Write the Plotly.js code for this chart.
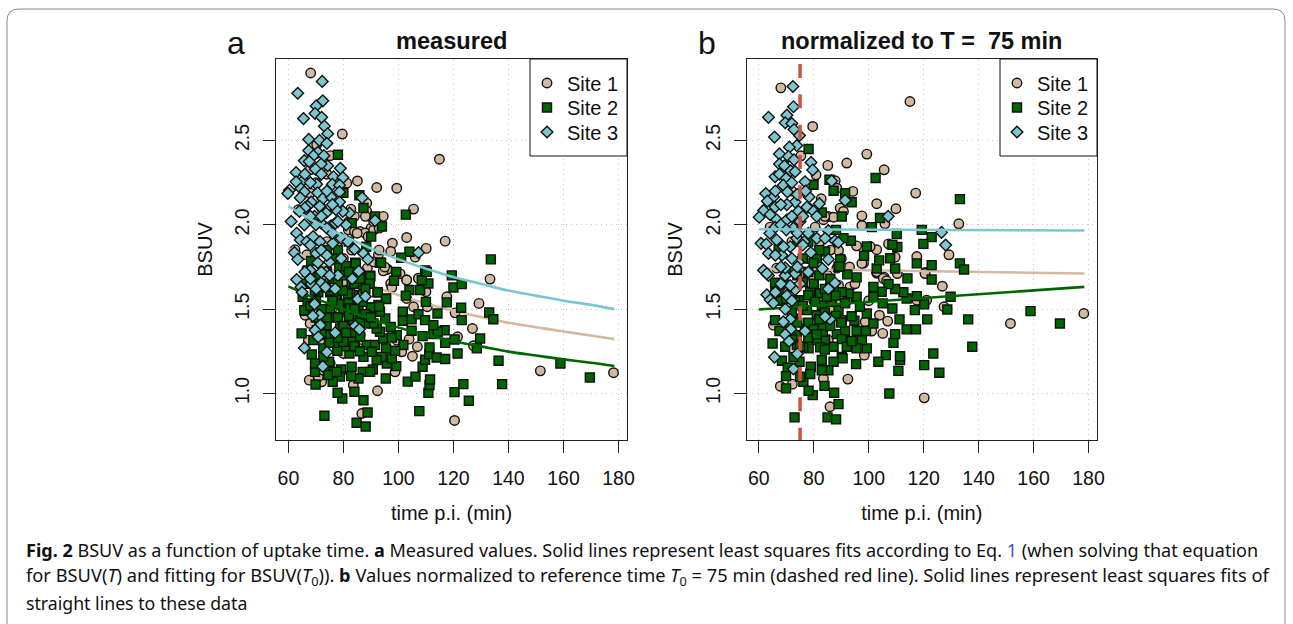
<!DOCTYPE html>
<html><head><meta charset="utf-8">
<script src="https://cdn.plot.ly/plotly-3.0.1.min.js"></script>
<style>html,body{margin:0;padding:0;background:#fff;overflow:hidden}</style></head>
<body><div id="chart" style="width:1293px;height:624px"></div>
<script>
const siteNames=["Site 1","Site 2","Site 3"];
const xTicks=[60,80,100,120,140,160,180];
const yTicks=[1.0,1.5,2.0,2.5];
const yTickText=["1.0","1.5","2.0","2.5"];
const refTime=[75,75];
const refTimeY=[2.953,0.724];

const a1x=[68.1,79.6,114.9,75.2,85.1,92.1,99.4,81.2,105.5,94.5,88.5,82.7,103,117,97.8,97.2,110.1,106.1,90.1,86.1,83.6,87.9,92.7,96,88.7,100.6,103,107.3,88.5,133.3,67.9,70.3,67.9,63.6,62.4,66.7,81.8,95.8,103,97.2,97.6,107.3,110,117.6,129.3,103,105.5,110.5,120.6,126.9,121.5,127.3,103.9,106.9,105.1,101.2,98.8,92.4,83.6,86.7,120.4,151.6,178.2,67.6,72.1,70.9,66.1,80,86.1,78.8,86.1,99.4,80,85.7,75.2,78.8,82.4,94.5,82.4,72.7,76.4,67.9,67.3,71.5,72.7,87.3,84,78,91,74,84,85,89,91,93,95,91,86,83,80,78,76,72,70,74,78,82,84,88,91,93];
const a1y=[2.9,2.538,2.389,2.41,2.26,2.221,2.217,2.247,2.093,2.05,2.128,2.093,1.925,1.903,1.891,1.842,1.86,1.808,1.98,1.96,1.966,1.951,1.822,1.737,1.743,1.71,1.674,1.684,2.08,1.678,2.326,2.474,2.188,2.089,1.852,1.822,1.97,1.735,1.672,1.652,1.628,1.682,1.603,1.573,1.534,1.563,1.514,1.514,1.478,1.385,1.336,1.283,1.322,1.277,1.221,1.247,1.128,1.016,1.049,0.881,0.84,1.134,1.123,1.079,1.069,1.099,1.464,1.652,1.613,1.375,1.346,1.316,1.237,1.267,1.178,1.474,1.435,1.727,1.494,1.494,1.543,1.415,1.316,1.316,1.138,1.593,1.62,1.78,1.5,1.9,1.96,1.95,1.93,1.97,1.85,1.75,1.78,1.72,1.85,1.8,1.9,2,2.1,2.25,2.3,2.25,2.02,2.05,2.05,2.02,1.98];
const a2x=[78,80,85.8,87.3,91.5,94,102.7,90.1,83,133.6,104,101,88.3,99.2,109.7,119.4,93.3,84.3,81.2,73.1,84.8,88.1,88.8,107.6,87.3,79.6,77.9,84,110.9,120.4,125.6,123.6,137.7,111.3,111.5,103.4,106.2,169.6,158.9,136.4,108.8,109.7,111.2,111.3,113.9,117,121.5,128.5,129.7,120.4,117,116.8,112.7,114.3,108.8,104.8,101.8,99.4,99.2,95.4,95.8,97.6,98.8,95.5,93.9,92.1,90.7,87,89.7,85.5,82.8,83,87.3,84.2,82.2,80.6,77.8,74.8,79.2,78.7,76.1,69.9,69.7,68.5,64.8,76.4,73.9,76.6,72.7,83.3,83.3,88.5,91.5,90.3,94.5,97.6,93.3,97.2,92.1,90.9,95.2,93.3,90,92.7,95.5,92.4,89,89.5,89.7,101.6,101.6,104.8,98.4,104,102.7,107.9,110,110.9,108.5,110.3,107.3,109.7,112.7,114.2,117.6,120,123,122.8,123,133,134.5,73.9,66.1,65.2,66.7,68.5,70.9,75.2,77.6,75.2,76.4,80,83.6,82.4,84.5,81.2,83.6,86.7,81.8,78.8,73.9,70.3,69.1,71.5,77,80,72.7,69.7,74.5,77.6,86.1,85.5,87.9,93.7,78.5,81,89.8,89.5,68.3,67,92.5,95.5,90,93,83,81.6,77.3,67,65.8,79.8,75.4,73.7,69.6,78.4,82.4,87,70,72,74,76,78,80,82,84,86,88,72,74,76,78,80,82,84,86,88,90,70,68,72,75,78,81,84,86,70,66,68,74,78,82,76];
const a2y=[2.415,2.19,2.175,2.1,2.05,1.99,2.06,1.93,2.01,1.795,1.84,1.805,1.87,1.72,1.73,1.7,1.775,1.775,1.755,0.868,0.826,0.804,0.887,0.895,0.96,0.97,1.004,1.01,1.004,1.008,0.957,1.055,1.055,1.05,1.083,1.07,1.1,1.095,1.178,1.194,1.158,1.2,1.233,1.273,1.213,1.204,1.237,1.267,1.326,1.32,1.3,1.375,1.352,1.366,1.34,1.372,1.287,1.346,1.162,1.089,1.178,1.208,1.253,1.267,1.217,1.198,1.142,1.128,1.128,1.089,1.103,1.158,1.217,1.273,1.237,1.28,1.253,1.188,1.142,1.1,1.069,1.053,1.128,1.231,1.356,1.128,1.346,1.3,1.267,1.316,1.36,1.287,1.287,1.247,1.326,1.332,1.366,1.395,1.385,1.415,1.445,1.484,1.51,1.524,1.563,1.6,1.455,1.656,1.698,1.484,1.431,1.439,1.668,1.613,1.58,1.613,1.543,1.652,1.672,1.721,1.47,1.435,1.405,1.474,1.54,1.628,1.648,1.508,1.435,1.48,1.44,1.494,1.49,1.573,1.72,1.672,1.6,1.6,1.563,1.504,1.45,1.494,1.583,1.613,1.77,1.711,1.435,1.464,1.534,1.385,1.405,1.375,1.316,1.395,1.346,1.306,1.217,1.178,1.109,1.128,1.336,1.524,1.415,1.775,1.745,1.755,1.695,1.65,1.785,1.73,1.6,1.56,1.51,1.515,1.66,1.593,1.583,1.534,1.494,1.61,1.61,1.63,1.61,1.53,1.505,1.543,1.7,1.65,1.72,1.68,1.66,1.7,1.72,1.65,1.68,1.62,1.5,1.45,1.55,1.45,1.4,1.46,1.5,1.42,1.47,1.45,1.45,1.52,1.35,1.3,1.33,1.36,1.28,1.25,1.55,1.65,1.7,1.85,1.85,1.9,1.8];
const a3x=[72.3,63.4,72.5,70.1,69.7,65.5,72.1,73.1,74.3,67.4,71.3,74,67.4,70.7,69.1,72.9,65.8,67.6,74.3,71.9,69.8,78.9,62.8,76.4,79.8,65.5,62.8,70.3,76,78.6,64.6,60.4,59.8,65.8,70.6,78.6,64.3,68.3,72.5,75.5,78.6,67,71.4,61,63,64.3,66.7,65.8,69.5,71.9,77.1,81,82.2,79.8,77.3,73.7,91.5,86.8,107.3,71.5,76.1,79.2,81.6,84,87.3,88.9,62.2,63.4,70.1,74.9,79.2,70.7,73.7,67.9,78,83.2,85.6,63,64.6,65,68.3,71.9,70.1,73.5,85.2,88,69.5,69.5,71.3,68.9,71.6,69.7,77,84.3,85.8,70.9,65.8,74,72.5,66,68,72,74,76,68,70,72,74,76,66,64,69,72,68,74,78,66,68,72,75,77];
const a3y=[2.85,2.78,2.735,2.705,2.66,2.63,2.637,2.585,2.54,2.506,2.5,2.483,2.44,2.43,2.41,2.41,2.38,2.375,2.35,2.36,2.33,2.335,2.31,2.285,2.28,2.265,2.255,2.24,2.24,2.235,2.215,2.205,2.186,2.195,2.19,2.195,2.16,2.135,2.155,2.165,2.135,2.11,2.11,2.02,1.95,1.91,1.9,2,2.05,2.01,2.01,2,2.07,2.08,2.09,2.07,2.025,2.16,1.835,1.9,1.89,1.92,1.9,1.855,1.83,1.795,1.835,1.795,1.83,1.78,1.8,1.775,1.72,1.73,1.7,1.68,1.725,1.675,1.63,1.6,1.65,1.655,1.62,1.63,1.56,1.575,1.54,1.53,1.465,1.46,1.405,1.375,1.36,1.4,1.38,1.335,1.27,1.245,1.16,2.3,2.25,2.3,2.2,2.12,2.05,2,2.05,1.98,1.95,2.1,2.08,1.93,1.85,1.88,1.82,2.02,1.72,1.68,1.72,1.7,1.62];

const b1x=[68,115,79.6,99.3,85.1,92,105.6,75.3,80.8,87.8,94.2,117.1,88.4,82.7,102.9,109.9,97.5,132.8,105.9,97.5,89.6,90.8,85.3,87.2,83.5,80.5,64.1,89,95.6,102.9,100.5,107.2,109.6,117.5,129.2,98.1,120.5,102.9,105.6,88.4,66.5,97.5,102.9,110.4,120.5,126.8,105.3,106.5,93.2,89,79.9,89.6,121.1,127.4,117.5,103.9,106.9,105.1,101.1,98.4,92.4,83.5,85.9,120.2,151.6,178.3,67.8,72.2,65.3,98.7,81.1,85.3,79.3,85.9,84,82,86,90,93,78,85,88,92,80,76,70,68,72,74,78,72,95,100];
const b1y=[2.812,2.731,2.583,2.419,2.352,2.366,2.326,2.409,2.296,2.261,2.198,2.188,2.217,2.154,2.125,2.095,2.053,2.006,2.006,1.996,2.099,2.079,2.049,2.045,2.03,1.986,1.986,1.848,1.875,1.852,1.871,1.887,1.808,1.812,1.822,1.773,1.717,1.713,1.69,1.743,1.743,1.771,1.721,1.711,1.711,1.636,1.682,1.668,1.632,1.642,1.682,1.534,1.553,1.514,1.553,1.464,1.429,1.356,1.37,1.227,1.085,1.089,0.921,0.974,1.415,1.474,1.043,1.055,1.405,1.425,1.385,1.316,1.366,1.504,2.05,1.9,1.85,1.8,1.75,1.8,1.7,1.6,1.55,1.55,1.5,1.4,1.6,1.9,2,2.1,2.2,1.65,1.55];
const b2x=[73,85,88.1,89,87.4,79.6,78.1,83.9,107.5,125.7,123.5,137.7,136.2,158.9,169.6,120.2,110.8,111.4,111.4,106.2,103.5,95.4,99.3,97.5,95.6,99,95.6,101.7,109,109.6,113.8,117.2,111.2,121.3,116.8,108.6,120.2,128.6,129.8,113.8,117.5,112.6,109.6,107.2,104.7,101.7,101.7,105.1,99.3,96.8,95.6,95.6,92.2,89,102.9,114.1,109.6,122.9,117.5,122.9,133.2,134.7,92.6,90.2,87.2,90.2,87.2,90.5,85.3,82.9,82.9,84.1,81.1,82.3,78.1,69.6,65,68.4,70.5,69.9,69.9,76.2,74.8,78.9,78.7,75,72.6,76.2,83.3,83.3,88.4,91.4,90.2,92,93.8,94.8,93.8,90.2,89,91.4,86.5,82.9,82.3,78.7,78,74.4,80.5,84.7,87.2,65.9,65.9,67.2,69,73.2,77.5,81.1,73.8,76.8,78,72.6,71.4,67.5,73.8,78.1,102.5,85.7,79.9,87.2,91.4,93.8,133.2,82.9,90.2,104.1,101.1,110.2,119.3,122.9,119.9,99.3,93.5,90.8,88.1,110.4,108.6,107.8,103.8,98.3,89.6,84.1,81.1,89.3,79.9,67.2,70,72,74,76,78,80,82,84,86,88,72,74,76,78,80,82,84,86,88,90,70,68,72,75,78,81,84,70,74,78,82,76,66];
const b2y=[0.858,0.858,0.846,0.937,1.004,0.99,1.016,1.045,1,1.123,1.237,1.277,1.439,1.488,1.415,1.168,1.134,1.198,1.221,1.227,1.188,1.174,1.267,1.316,1.267,1.37,1.37,1.415,1.3,1.352,1.38,1.38,1.439,1.439,1.494,1.504,1.528,1.498,1.573,1.563,1.577,1.6,1.619,1.648,1.603,1.632,1.573,1.534,1.474,1.514,1.573,1.688,1.706,1.751,1.741,1.682,1.741,1.676,1.771,1.761,1.771,1.735,1.593,1.6,1.277,1.217,1.188,1.208,1.138,1.138,1.198,1.32,1.316,1.273,1.267,1.277,1.296,1.194,1.154,1.103,1.03,1.069,1.188,1.158,1.115,1.099,1.217,1.273,1.366,1.405,1.352,1.37,1.322,1.277,1.31,1.431,1.458,1.435,1.494,1.534,1.543,1.524,1.593,1.603,1.583,1.553,1.543,1.573,1.623,1.435,1.656,1.593,1.652,1.543,1.494,1.464,1.346,1.385,1.415,1.445,1.366,1.37,1.287,2.449,2.277,2.267,2.237,2.202,2.188,2.134,2.152,2.073,2.049,2.04,1.986,1.945,1.97,1.927,1.887,1.872,1.905,1.921,1.97,1.868,1.881,1.802,1.789,1.816,1.796,1.842,1.802,1.753,1.773,1.862,1.72,1.63,1.7,1.66,1.72,1.65,1.7,1.62,1.68,1.58,1.48,1.42,1.52,1.42,1.38,1.44,1.48,1.4,1.46,1.42,1.42,1.55,1.32,1.28,1.33,1.35,1.26,1.56,1.9,1.9,1.85,1.8,1.6];
const b3x=[72.4,72.6,63.5,70.2,69.6,72,72.8,65.7,74.8,73.8,71.1,67.5,70.8,72.8,79,67.5,69.3,71.6,79.6,65.9,67.5,69.9,73.2,76.8,68.9,86.5,70.4,78.3,62.5,65.3,63.1,91.4,82,73.2,65.9,70.2,77.5,61.7,74.4,79.9,64.1,81.1,60.1,66.5,70.2,75,107.1,65.9,72.6,85.3,126.5,60.8,62.7,66.5,73.8,76.5,81.1,84.1,87.7,88.9,128,63.5,71.4,68.4,78.9,85.3,74.4,61.7,63.5,83.1,73.2,69.6,78,85.3,87.7,62.9,64.1,65.3,69.6,71.4,68.9,85.9,84.1,71.6,76.8,69.6,71,74,65.7,72.6,70.2,73.2,71.4,69.6,62.9,66,68,72,74,76,68,70,72,74,76,66,64,69,72,68,74,78,66,68,72,75,77];
const b3y=[2.82,2.7,2.637,2.65,2.605,2.6,2.565,2.52,2.53,2.47,2.46,2.42,2.405,2.385,2.37,2.36,2.35,2.32,2.325,2.285,2.3,2.275,2.315,2.255,2.235,2.26,2.195,2.165,2.185,2.165,2.14,2.145,2.125,2.135,2.105,2.12,2.105,2.085,2.08,2.08,2.06,2.05,2.045,2.03,2.03,2.02,2.05,1.985,1.98,1.965,1.955,1.89,1.885,1.91,1.92,1.9,1.92,1.92,1.905,1.895,1.88,1.83,1.87,1.82,1.835,1.795,1.78,1.73,1.7,1.74,1.71,1.7,1.72,1.62,1.655,1.585,1.555,1.535,1.5,1.44,1.425,1.44,1.455,1.38,1.37,1.35,1.31,1.235,1.215,1.145,1.58,1.615,1.64,1.745,1.71,2.2,2.12,2.25,2.18,2.05,2,1.97,2.05,1.95,1.88,1.82,1.95,1.87,1.8,1.75,1.75,1.95,1.6,1.65,1.55,1.65,2.2];

const fitX=[60,70,80,90,100,110,120,130,140,150,160,170,178.5];
const fitA1=[1.86,1.776,1.706,1.64,1.583,1.534,1.49,1.454,1.419,1.393,1.367,1.344,1.322];
const fitA2=[1.635,1.562,1.5,1.441,1.391,1.348,1.31,1.279,1.248,1.225,1.202,1.182,1.163];
const fitA3=[2.11,2.015,1.935,1.86,1.795,1.74,1.69,1.65,1.61,1.58,1.55,1.525,1.5];
const fitBX=[60,178.5];
const fitB1=[1.74,1.711];
const fitB2=[1.498,1.632];
const fitB3=[1.974,1.966];

const W=1293,H=624;
const px=v=>v/W, py=v=>1-v/H;
const COL={tan:"#d2b9a0",green:"#006400",teal:"#7cc6cf",red:"#cd5340"};
const mk={
 s1:{symbol:"circle",size:9.5,color:COL.tan,line:{color:"#111",width:1.4}},
 s2:{symbol:"square",size:9,color:COL.green,line:{color:"#111",width:1.4}},
 s3:{symbol:"diamond",size:9,color:COL.teal,line:{color:"#111",width:1.4}}
};
const pts=(x,y,m,name,xa,ya,lg)=>({type:"scatter",mode:"markers",x,y,marker:m,name,xaxis:xa,yaxis:ya,legend:lg,showlegend:true});
const fit=(x,y,c,xa,ya)=>({type:"scatter",mode:"lines",x,y,line:{color:c,width:2.6,shape:"spline"},xaxis:xa,yaxis:ya,showlegend:false});
const data=[
 pts(a1x,a1y,mk.s1,siteNames[0],"x","y","legend"),
 fit(fitX,fitA1,COL.tan,"x","y"),
 pts(a2x,a2y,mk.s2,siteNames[1],"x","y","legend2"),
 fit(fitX,fitA2,COL.green,"x","y"),
 pts(a3x,a3y,mk.s3,siteNames[2],"x","y","legend3"),
 fit(fitX,fitA3,COL.teal,"x","y"),
 pts(b1x,b1y,mk.s1,siteNames[0],"x2","y2","legend4"),
 fit(fitBX,fitB1,COL.tan,"x2","y2"),
 pts(b2x,b2y,mk.s2,siteNames[1],"x2","y2","legend5"),
 fit(fitBX,fitB2,COL.green,"x2","y2"),
 pts(b3x,b3y,mk.s3,siteNames[2],"x2","y2","legend6"),
 fit(fitBX,fitB3,COL.teal,"x2","y2"),
 {type:"scatter",mode:"lines",x:refTime,y:refTimeY,line:{color:COL.red,width:3.5,dash:"14px,16.3px"},xaxis:"x2",yaxis:"y2",showlegend:false}
];
const FONT="Liberation Sans, Arial, sans-serif";
const base={ticks:"outside",ticklen:12,tickwidth:1,tickcolor:"#222",linecolor:"#222",linewidth:1,mirror:true,showline:true,
 showgrid:true,gridcolor:"#c4c4c4",griddash:"1px,4px",gridwidth:1,zeroline:false,tickfont:{family:FONT,size:19.5,color:"#111"},automargin:false};
const xax=(l,r,anchor)=>({...base,ticklabelstandoff:9,domain:[px(l),px(r)],range:[55.5,183.1],anchor,tickmode:"array",tickvals:xTicks,ticktext:xTicks.map(String),
 title:{text:"time p.i. (min)",font:{family:FONT,size:20,color:"#111"},standoff:17}});
const yax=(anchor)=>({...base,ticklabelstandoff:6,domain:[py(440),py(59)],range:[0.724,2.983],anchor,tickmode:"array",tickvals:yTicks,ticktext:yTickText,tickangle:-90,
 title:{text:"BSUV",font:{family:FONT,size:20,color:"#111"},standoff:13}});
const frame=`M ${px(7)},${py(624)} L ${px(7)},${py(21)} Q ${px(7)},${py(9)} ${px(19)},${py(9)} L ${px(1273)},${py(9)} Q ${px(1285)},${py(9)} ${px(1285)},${py(21)} L ${px(1285)},${py(624)}`;
const legendBox=(l,r)=>({type:"rect",xref:"paper",yref:"paper",x0:px(l),x1:px(r),y0:py(156),y1:py(59),line:{color:"#111",width:1},fillcolor:"#fff",layer:"above"});
const legendCfg=(l,top)=>({x:px(l),y:py(top),xanchor:"left",yanchor:"top",bgcolor:"rgba(0,0,0,0)",borderwidth:0,font:{family:FONT,size:20,color:"#111"}});
const note=(text,x,y,size,font,xanchor="center")=>({text,xref:"paper",yref:"paper",x:px(x),y:py(y),xanchor,yanchor:"middle",showarrow:false,align:"left",font:{family:font,size,color:"#111"}});
const CAP="Noto Sans, sans-serif";
const layout={width:W,height:H,margin:{l:0,r:0,t:0,b:0},paper_bgcolor:"#fff",plot_bgcolor:"#fff",
 xaxis:xax(276,627,"y"),yaxis:yax("x"),xaxis2:xax(746.5,1097,"y2"),yaxis2:yax("x2"),
 legend:legendCfg(527,63.5),legend2:legendCfg(527,88),legend3:legendCfg(527,112.5),
 legend4:legendCfg(997,63.5),legend5:legendCfg(997,88),legend6:legendCfg(997,112.5),
 shapes:[{type:"path",xref:"paper",yref:"paper",path:frame,line:{color:"#8a8a8a",width:1},layer:"below"},legendBox(530,627),legendBox(1000,1097)],
 annotations:[
  note("a",236,43,32,FONT),note("b",707,43,32,FONT),
  note("<b>measured</b>",451,41.5,23.6,FONT),
  note("<b>normalized to T =  75 min</b>",921,41.5,23.5,FONT),
  note("<b>Fig. 2</b> BSUV as a function of uptake time. <b>a</b> Measured values. Solid lines represent least squares fits according to Eq. <span style=\"color:#3f51c8\">1</span> (when solving that equation",24,550,18.05,CAP,"left"),
  note("for BSUV(<i>T</i>) and fitting for BSUV(<i>T</i><sub>0</sub>)). <b>b</b> Values normalized to reference time <i>T</i><sub>0</sub> = 75 min (dashed red line). Solid lines represent least squares fits of",24,576,18.3,CAP,"left"),
  note("straight lines to these data",24,603,17.7,CAP,"left")
 ]};
Plotly.newPlot("chart",data,layout,{staticPlot:true,displayModeBar:false});
</script></body></html>
